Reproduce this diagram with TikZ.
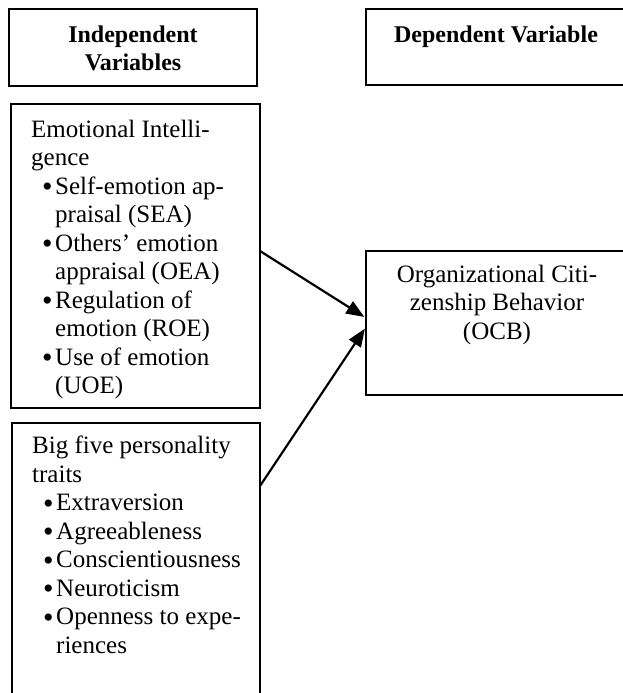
\documentclass[tikz,border=0pt]{standalone}
\usepackage{fontspec}
\setmainfont{Liberation Serif}
\usetikzlibrary{arrows.meta}
\newcommand\myb{\hspace*{11pt}\makebox[13pt][l]{\raisebox{-2.5pt}{\fontsize{30}{28}\selectfont •}}}
\newcommand\myi{\hspace*{24pt}}
\begin{document}
\begin{tikzpicture}[x=1pt,y=-1pt,
  box/.style={draw=black, line width=1.6pt, anchor=north west, inner sep=0pt, outer sep=0pt},
  head/.style={font=\fontsize{24}{28}\selectfont\bfseries, anchor=base, text width=240pt, align=flush center, inner sep=0pt},
  body/.style={font=\fontsize{25}{28.5}\selectfont, anchor=base west, text width=240pt, align=flush left, inner sep=0pt},
  ctr/.style={font=\fontsize{25}{28.5}\selectfont, anchor=base, text width=250pt, align=flush center, inner sep=0pt},
  link/.style={line width=2.2pt, shorten >=2pt, -{Triangle[length=18pt,width=14pt]}}]
\useasboundingbox (0,0) rectangle (623,693);
\clip (0,0) rectangle (623,693);
% boxes
\node[box, minimum width=248pt, minimum height=77pt] (iv) at (9,9) {};
\node[box, minimum width=262pt, minimum height=76pt] (dv) at (366,9) {};
\node[box, minimum width=249pt, minimum height=304pt] (ei) at (11,104) {};
\node[box, minimum width=248pt, minimum height=300pt] (big) at (12,423) {};
\node[box, minimum width=262pt, minimum height=144pt] (ocb) at (366,251) {};
% texts
\node[head] (ivt) at (133,43) {Independent\\Variables};
\node[head] (dvt) at (496,43) {Dependent Variable};
\node[body] (eit) at (31,137) {Emotional Intelli-\\gence\\\myb Self-emotion ap-\\\myi praisal (SEA)\\\myb Others’ emotion\\\myi appraisal (OEA)\\\myb Regulation of\\\myi emotion (ROE)\\\myb Use of emotion\\\myi (UOE)};
\node[body] (bigt) at (32,453.5) {Big five personality\\traits\\\myb Extraversion\\\myb Agreeableness\\\myb Conscientiousness\\\myb Neuroticism\\\myb Openness to expe-\\\myi riences};
\node[ctr] (ocbt) at (497,282) {Organizational Citi-\\zenship Behavior\\(OCB)};
% connectors
\draw[link] ([yshift=5pt]ei.east) -- ([yshift=5pt]ocb.west);
\draw[link] ([yshift=-63pt]big.north east) -- ([yshift=-4pt]ocb.west);
\end{tikzpicture}
\end{document}
